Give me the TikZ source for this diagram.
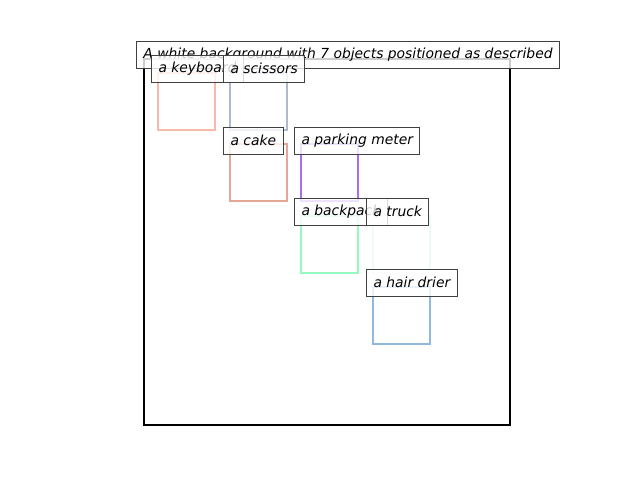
\documentclass[tikz,border=0pt]{standalone}
\usepackage{fontspec}
\setmainfont{DejaVu Sans}
\begin{document}
\begin{tikzpicture}[x=0.75pt,y=-0.75pt,
  obj/.style={line width=1.65pt},
  lbl/.style={draw=black!75, line width=0.75pt, fill=white, fill opacity=0.8, text opacity=1,
    anchor=west, inner xsep=5.25pt, inner ysep=0pt, minimum height=20.25pt,
    font=\fontsize{10.4}{12}\selectfont\itshape}]
\useasboundingbox (0,0) rectangle (640,480);
\fill[white] (0,0) rectangle (640,480);
\definecolor{ckey}{RGB}{248,185,168}
\definecolor{csci}{RGB}{172,186,206}
\definecolor{ccake}{RGB}{228,166,150}
\definecolor{cpark}{RGB}{168,110,240}
\definecolor{cback}{RGB}{150,250,190}
\definecolor{ctruck}{RGB}{236,250,248}
\definecolor{chair}{RGB}{145,185,222}
% frame
\draw[line width=1.75pt] (144,59) rectangle (510,425);
% title
\node[lbl, anchor=center] (title) at (348,54.5) {A white background with 7 objects positioned as described};
% objects
\draw[obj,ckey] (158,73) rectangle (215,130);
\draw[obj,csci] (230,73) rectangle (287,130);
\draw[obj,ccake] (230,144) rectangle (287,201);
\draw[obj,cpark] (301,144) rectangle (358,201);
\draw[obj,cback] (301,216) rectangle (358,273);
\draw[obj,ctruck] (373,216) rectangle (430,273);
\draw[obj,chair] (373,287) rectangle (430,344);
% labels
\node[lbl] (lkey) at (151,68.5) {a keyboard};
\node[lbl] (lsci) at (223,68.5) {a scissors};
\node[lbl] (lcake) at (223,140.5) {a cake};
\node[lbl] (lpark) at (294,140.5) {a parking meter};
\node[lbl] (lback) at (294,211.5) {a backpack};
\node[lbl] (ltruck) at (366,211.5) {a truck};
\node[lbl] (lhair) at (366,282.5) {a hair drier};
\end{tikzpicture}
\end{document}
